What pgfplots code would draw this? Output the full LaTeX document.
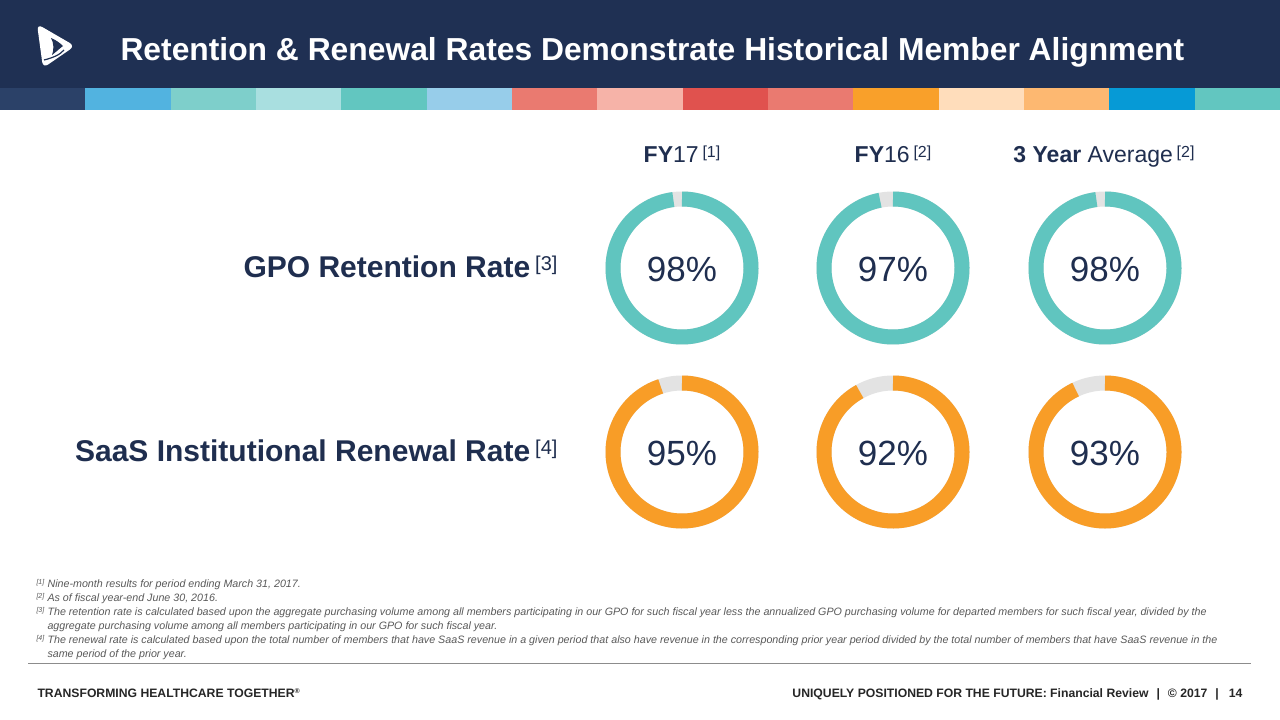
\documentclass[border=0pt]{standalone}
\usepackage{pgfplots}
\pgfplotsset{compat=1.18}
\usepackage{fontspec}
\setmainfont{Liberation Sans}
\definecolor{navy}{HTML}{1F3053}
\definecolor{txtnavy}{HTML}{1F2E4F}
\definecolor{ringteal}{HTML}{60C5BF}
\definecolor{ringorange}{HTML}{F89D27}
\definecolor{ringgray}{HTML}{E3E3E3}
\definecolor{noteg}{HTML}{595959}
\definecolor{footg}{HTML}{262626}
\definecolor{s1}{HTML}{2B4168}
\definecolor{s2}{HTML}{52B3E0}
\definecolor{s3}{HTML}{7ECFCB}
\definecolor{s4}{HTML}{A9DFE0}
\definecolor{s5}{HTML}{62C6C0}
\definecolor{s6}{HTML}{97CDEA}
\definecolor{s7}{HTML}{EA7A70}
\definecolor{s8}{HTML}{F6B3A8}
\definecolor{s9}{HTML}{E0524E}
\definecolor{s10}{HTML}{EA7A70}
\definecolor{s11}{HTML}{F9A02A}
\definecolor{s12}{HTML}{FFDDBB}
\definecolor{s13}{HTML}{FDB871}
\definecolor{s14}{HTML}{069AD6}
\definecolor{s15}{HTML}{62C6C0}
\newcommand{\fs}[1]{\fontsize{#1}{#1}\selectfont}
\begin{document}
\begin{tikzpicture}
\begin{axis}[width=1280pt,height=720pt,scale only axis,
  xmin=0,xmax=1280,ymin=0,ymax=720,y dir=reverse,
  hide axis,clip=false,
  ring/.style={line width=15pt,no markers,samples=200}]
\fill[white] (0,0) rectangle (1280,720);
\fill[navy] (0,0) rectangle (1280,88);
\fill[s1] (0,88) rectangle (85.33,110);
\fill[s2] (85.33,88) rectangle (170.67,110);
\fill[s3] (170.67,88) rectangle (256,110);
\fill[s4] (256,88) rectangle (341.33,110);
\fill[s5] (341.33,88) rectangle (426.67,110);
\fill[s6] (426.67,88) rectangle (512,110);
\fill[s7] (512,88) rectangle (597.33,110);
\fill[s8] (597.33,88) rectangle (682.67,110);
\fill[s9] (682.67,88) rectangle (768,110);
\fill[s10] (768,88) rectangle (853.33,110);
\fill[s11] (853.33,88) rectangle (938.67,110);
\fill[s12] (938.67,88) rectangle (1024,110);
\fill[s13] (1024,88) rectangle (1109.33,110);
\fill[s14] (1109.33,88) rectangle (1194.67,110);
\fill[s15] (1194.67,88) rectangle (1280,110);
% logo
\fill[white,rounded corners=6pt] (37,24) -- (75,46) -- (43,68) -- cycle;
\fill[navy] (51,38) .. controls (56,40) and (60,43) .. (63,46) .. controls (59,49) and (56,52) .. (52,55) .. controls (54,50) and (54,43) .. cycle;
\draw[navy,line width=1.2pt] (44,60) .. controls (52,58) and (60,55) .. (64,50);
\node[anchor=base west,text=white,font=\fs{31.8}\bfseries] at (117,60) {Retention \& Renewal Rates Demonstrate Historical Member Alignment};
% column headers
\node[anchor=base,text=txtnavy,font=\fs{23}] at (682,162) {\textbf{FY}17\,\raisebox{5pt}{\fs{16}[1]}};
\node[anchor=base,text=txtnavy,font=\fs{23}] at (893,162) {\textbf{FY}16\,\raisebox{5pt}{\fs{16}[2]}};
\node[anchor=base,text=txtnavy,font=\fs{23}] at (1104,162) {\textbf{3 Year} Average\,\raisebox{5pt}{\fs{16}[2]}};
% row labels
\node[anchor=base east,text=txtnavy,font=\fs{30}] at (561,277) {\textbf{GPO Retention Rate}\,\raisebox{7pt}{\fs{20}[3]}};
\node[anchor=base east,text=txtnavy,font=\fs{30}] at (561,461) {\textbf{SaaS Institutional Renewal Rate}\,\raisebox{7pt}{\fs{20}[4]}};
% donuts row 1 (GPO retention)
\addplot[ring,ringgray,domain=0:100] ({682+69*sin(3.6*x)},{268-69*cos(3.6*x)});
\addplot[ring,ringteal,domain=0:98] ({682+69*sin(3.6*x)},{268-69*cos(3.6*x)});
\addplot[ring,ringgray,domain=0:100] ({893+69*sin(3.6*x)},{268-69*cos(3.6*x)});
\addplot[ring,ringteal,domain=0:97] ({893+69*sin(3.6*x)},{268-69*cos(3.6*x)});
\addplot[ring,ringgray,domain=0:100] ({1105+69*sin(3.6*x)},{268-69*cos(3.6*x)});
\addplot[ring,ringteal,domain=0:98] ({1105+69*sin(3.6*x)},{268-69*cos(3.6*x)});
% donuts row 2 (SaaS renewal)
\addplot[ring,ringgray,domain=0:100] ({682+69*sin(3.6*x)},{452-69*cos(3.6*x)});
\addplot[ring,ringorange,domain=0:95] ({682+69*sin(3.6*x)},{452-69*cos(3.6*x)});
\addplot[ring,ringgray,domain=0:100] ({893+69*sin(3.6*x)},{452-69*cos(3.6*x)});
\addplot[ring,ringorange,domain=0:92] ({893+69*sin(3.6*x)},{452-69*cos(3.6*x)});
\addplot[ring,ringgray,domain=0:100] ({1105+69*sin(3.6*x)},{452-69*cos(3.6*x)});
\addplot[ring,ringorange,domain=0:93] ({1105+69*sin(3.6*x)},{452-69*cos(3.6*x)});
% percent labels
\node[anchor=base,text=txtnavy,font=\fs{35}] at (682,281) {98\%};
\node[anchor=base,text=txtnavy,font=\fs{35}] at (893,281) {97\%};
\node[anchor=base,text=txtnavy,font=\fs{35}] at (1105,281) {98\%};
\node[anchor=base,text=txtnavy,font=\fs{35}] at (682,465) {95\%};
\node[anchor=base,text=txtnavy,font=\fs{35}] at (893,465) {92\%};
\node[anchor=base,text=txtnavy,font=\fs{35}] at (1105,465) {93\%};
% footnotes
\node[anchor=base west,text=noteg,font=\fs{7}\itshape] at (33,584) {[1]};
\node[anchor=base west,text=noteg,font=\fs{10.7}\itshape] at (44,587) {Nine-month results for period ending March 31, 2017.};
\node[anchor=base west,text=noteg,font=\fs{7}\itshape] at (33,598) {[2]};
\node[anchor=base west,text=noteg,font=\fs{10.7}\itshape] at (44,601) {As of fiscal year-end June 30, 2016.};
\node[anchor=base west,text=noteg,font=\fs{7}\itshape] at (33,612) {[3]};
\node[anchor=base west,text=noteg,font=\fs{10.7}\itshape] at (44,615) {The retention rate is calculated based upon the aggregate purchasing volume among all members participating in our GPO for such fiscal year less the annualized GPO purchasing volume for departed members for such fiscal year, divided by the};
\node[anchor=base west,text=noteg,font=\fs{10.7}\itshape] at (44,629) {aggregate purchasing volume among all members participating in our GPO for such fiscal year.};
\node[anchor=base west,text=noteg,font=\fs{7}\itshape] at (33,640) {[4]};
\node[anchor=base west,text=noteg,font=\fs{10.7}\itshape] at (44,643) {The renewal rate is calculated based upon the total number of members that have SaaS revenue in a given period that also have revenue in the corresponding prior year period divided by the total number of members that have SaaS revenue in the};
\node[anchor=base west,text=noteg,font=\fs{10.7}\itshape] at (44,657) {same period of the prior year.};
\draw[color=gray!90,line width=1.5pt] (28,663.5) -- (1251,663.5);
% footer
\node[anchor=base west,text=footg,font=\fs{12.2}\bfseries] at (34,697) {TRANSFORMING HEALTHCARE TOGETHER\raisebox{4pt}{\fs{7}®}};
\node[anchor=base east,text=footg,font=\fs{12.2}\bfseries] at (1246,697) {UNIQUELY POSITIONED FOR THE FUTURE: Financial Review\hspace{8pt}|\hspace{8pt}© 2017\hspace{8pt}|\hspace{10pt}14};
\end{axis}
\end{tikzpicture}
\end{document}
